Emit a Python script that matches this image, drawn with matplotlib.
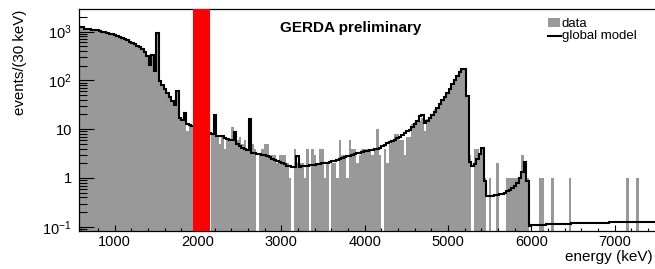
import numpy as np
import matplotlib
matplotlib.use('Agg')
import matplotlib.pyplot as plt
from matplotlib.ticker import MultipleLocator, LogLocator, NullFormatter
from matplotlib.patches import Rectangle
from matplotlib.lines import Line2D

plt.rcParams['font.family'] = ['Liberation Sans', 'DejaVu Sans']
plt.rcParams['mathtext.fontset'] = 'custom'
plt.rcParams['mathtext.rm'] = 'Liberation Sans'
plt.rcParams['mathtext.it'] = 'Liberation Sans:italic'
plt.rcParams['mathtext.bf'] = 'Liberation Sans:bold'

# ---------------- data ----------------
E_MIN = 570          # keV, lower edge of first bin
BIN_W = 30           # keV per bin

data_counts = [
    1230, 1225, 1150, 1120, 1110, 1105, 1070, 1065, 1030, 995,
    985, 940, 915, 870, 845, 790, 765, 720, 698, 652,
    630, 585, 560, 510, 482, 428, 385, 315, 203, 335,
    152, 925, 94, 81, 63, 54, 47, 36, 31, 60,
    16, 15, 20, 9, 12, 11,
    0, 0, 0, 0, 0, 0, 0,
    8, 8, 7, 5, 7, 4, 6, 6, 11, 6,
    6, 7, 5, 6, 4, 4, 5, 4, 0, 3,
    4, 5, 5, 3, 3, 3, 2, 3, 3, 3,
    2, 1, 0, 4, 2, 2, 2, 1, 4, 0,
    4, 3, 2, 4, 4, 1, 2,
    0, 2, 2, 1, 6, 3, 3, 1, 6, 4,
    4, 2, 3, 4, 4, 4, 4, 3, 4, 10,
    3, 0, 4, 2, 5, 6, 8, 8, 6, 6,
    3, 7, 7, 13, 14, 14, 15, 17, 9, 16,
    17, 20, 26, 28, 34, 40, 44, 55, 66, 80,
    100, 122, 150, 170, 180, 50,
    3, 0, 4, 4, 3, 4, 1, 0, 1, 0,
    0, 2, 0, 0, 0, 1, 1, 1, 1, 1,
    1, 3, 2, 1,
    0, 0, 0, 0, 1, 1, 0, 0, 0, 1,
    0, 0, 0, 0, 0, 0, 1, 0, 0, 0,
    0, 0, 0, 0, 0, 0, 0, 0, 0, 0,
    0, 0, 0, 0, 0, 0, 0, 0, 0, 1,
    0, 0, 0, 1, 0, 0, 0, 0, 0, 0,
    0,
]

model_counts = [
    1240, 1215, 1140, 1130, 1115, 1100, 1080, 1060, 1035, 1000,
    980, 945, 910, 875, 840, 795, 760, 727, 693, 658,
    624, 590, 556, 516, 477, 432, 381, 319, 206, 329,
    157, 920, 96, 80, 66, 55, 46, 37.5, 32, 61,
    17.3, 15.2, 21.5, 12.5, 12, 11.5,
    11, 10.6, 10.2, 9.8, 9.4, 9.0, 8.5,
    7.8, 19.5, 7.4, 7.1, 7.3, 6.6, 6.3, 6.1, 6.0, 8.8,
    5.0, 4.5, 4.2, 3.9, 3.7, 15.8, 3.3, 3.2, 3.1, 3.05,
    3.0, 2.9, 2.8, 2.65, 2.5, 2.35, 2.2, 2.1, 2.0, 1.9,
    1.8, 1.74, 1.7, 1.7, 2.8, 1.7, 1.72, 1.75, 1.78, 1.81,
    1.84, 1.88, 1.94, 1.98, 2.02, 2.05, 2.07,
    2.12, 2.2, 2.28, 2.37, 2.47, 2.57, 2.67, 2.77, 2.87, 2.97,
    3.07, 3.18, 3.3, 3.4, 3.5, 3.6, 3.7, 3.8, 3.9, 4.0,
    4.1, 4.6, 4.8, 5.1, 5.4, 5.7, 6.1, 6.5, 7.0, 7.6,
    8.3, 9.0, 9.8, 11, 12.5, 14.5, 18.5, 19.5, 13.5, 15,
    17, 19.5, 23, 27.5, 33, 39, 46, 56, 68, 83,
    102, 125, 148, 172, 175, 48,
    2.1, 1.8, 1.9, 2.4, 3.1, 4.2, 0.85, 0.43, 0.43, 0.43,
    0.44, 0.45, 0.46, 0.48, 0.5, 0.53, 0.57, 0.62, 0.69, 0.8,
    0.98, 1.35, 2.15, 0.85,
    0.105, 0.107, 0.108, 0.109, 0.11, 0.11, 0.111, 0.112, 0.112, 0.113,
    0.113, 0.114, 0.114, 0.115, 0.115, 0.116, 0.116, 0.117, 0.117, 0.118,
    0.118, 0.118, 0.119, 0.119, 0.12, 0.12, 0.12, 0.121, 0.121, 0.122,
    0.122, 0.122, 0.123, 0.123, 0.124, 0.124, 0.124, 0.125, 0.125, 0.125,
    0.126, 0.126, 0.126, 0.127, 0.127, 0.127, 0.127, 0.126, 0.126, 0.125,
    0.125,
]

blind_window = (1939, 2139)
x_ticks = [1000, 2000, 3000, 4000, 5000, 6000, 7000]
y_ticks = [0.1, 1, 10, 100, 1000]
y_tick_labels = ['10$^{-1}$', '1', '10', '10$^{2}$', '10$^{3}$']

# ---------------- figure ----------------
W, H = 655, 269
fig = plt.figure(figsize=(W / 100, H / 100), dpi=100)


def fx(px):
    return px / W


def fy(py):
    return 1 - py / H


ax = fig.add_axes([fx(78.9), fy(231), (656.2 - 78.9) / W, (231 - 9.3) / H])

data = np.asarray(data_counts, dtype=float)
model = np.asarray(model_counts, dtype=float)
edges = E_MIN + BIN_W * np.arange(len(data) + 1)

ax.set_yscale('log')
floor = 1e-3
ax.stairs(np.maximum(data, floor), edges, baseline=floor, fill=True,
          color='#999999', lw=0, zorder=1)
ax.stairs(model, edges, baseline=None, color='black', lw=1.5, zorder=2)
ax.axvspan(blind_window[0], blind_window[1], color='#ff0000', lw=0, zorder=3)

ax.set_xlim(E_MIN, 7500)
ax.set_ylim(0.082, 2860)

ax.set_xticks(x_ticks)
ax.xaxis.set_minor_locator(MultipleLocator(200))
ax.set_yticks(y_ticks, y_tick_labels)
ax.yaxis.set_minor_locator(LogLocator(base=10, subs=np.arange(2, 10)))
ax.yaxis.set_minor_formatter(NullFormatter())

ax.tick_params(which='both', direction='in', top=False, right=False,
               width=0.8, color='black', labelsize=10.5)
ax.tick_params(axis='x', which='both', pad=3)
ax.tick_params(axis='y', which='both', pad=5)
ax.tick_params(axis='x', which='major', length=4.5)
ax.tick_params(axis='x', which='minor', length=2.3)
ax.tick_params(axis='y', which='major', length=11)
ax.tick_params(axis='y', which='minor', length=5.5)
for sp in ax.spines.values():
    sp.set_linewidth(0.9)

# texts
fig.text(fx(280), fy(31.8), 'GERDA preliminary', fontsize=11,
         fontweight='bold', va='baseline', ha='left')
fig.text(fx(20), fy(10), 'events/(30 keV)', rotation=90, ha='center',
         va='top', fontsize=10.8)
fig.text(fx(653), fy(261.5), 'energy (keV)', ha='right', va='baseline',
         fontsize=11)

# legend
fig.patches.append(Rectangle((fx(547.7), fy(27.5)), (560.3 - 547.7) / W,
                             (27.5 - 18.5) / H, transform=fig.transFigure,
                             facecolor='#999999', lw=0))
fig.lines.append(Line2D([fx(547.7), fx(560.5)], [fy(36.5), fy(36.5)],
                        transform=fig.transFigure, color='black', lw=1.5))
fig.text(fx(562), fy(27.3), 'data', fontsize=9.5, va='baseline', ha='left')
fig.text(fx(562), fy(38.7), 'global model', fontsize=9.5, va='baseline',
         ha='left')

fig.savefig('out.png', dpi=100)
